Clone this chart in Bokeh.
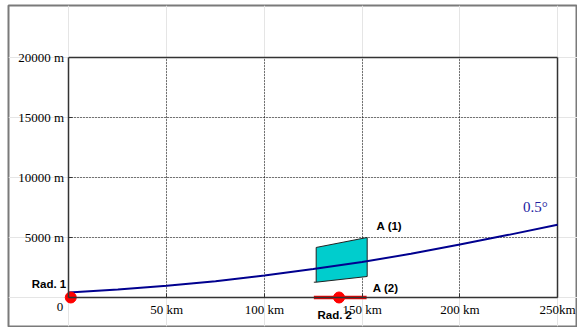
from bokeh.plotting import figure
from bokeh.models import LinearAxis, FixedTicker, Label, Range1d, Grid
from bokeh.embed import file_html
from bokeh.resources import INLINE

# ---- data (km / m) ----
beam_x = [0, 25, 50, 75, 100, 125, 150, 175, 200, 225, 250]
beam_h = [420, 660, 970, 1360, 1830, 2370, 2950, 3640, 4420, 5220, 6060]

area1_x = [126.5, 152.6, 152.6, 126.5]
area1_h = [4170, 5000, 1750, 1275]
area1_base_x = [125.3, 126.5]
area1_base_h = [1275, 1275]

area2_x = [125.3, 152.3]
area2_h = [0, 0]

radar_x = [0.9, 138.2]
radar_h = [0, 0]

x_ticks = [50, 100, 150, 200, 250]
x_tick_labels = ["50 km", "100 km", "150 km", "200 km", "250km"]
y_ticks = [5000, 10000, 15000, 20000]
y_tick_labels = ["5000 m", "10000 m", "15000 m", "20000 m"]
grid_x = [50, 100, 150, 200]
grid_y = [5000, 10000, 15000]

SERIF = "Liberation Serif"
SANS = "Liberation Sans"

x_max = x_ticks[-1]
y_max = y_ticks[-1]

p = figure(width=577, height=327, x_range=Range1d(-30.96, 260.23), y_range=Range1d(-2417, 24333),
           output_backend="svg", toolbar_location=None,
           x_axis_location=None, y_axis_location=None,
           min_border_left=8, min_border_right=0, min_border_top=5, min_border_bottom=1)
p.outline_line_color = "#7a7a7a"
p.outline_line_width = 2
p.background_fill_color = "white"
p.border_fill_color = "white"

def style_axis(ax):
    ax.axis_line_color = "#333333"
    ax.axis_line_width = 1.5
    ax.major_tick_in = 4
    ax.major_tick_out = 0
    ax.minor_tick_line_color = None
    ax.major_tick_line_color = "#333333"
    ax.major_label_text_font = SERIF
    ax.major_label_text_font_size = "13px"
    ax.major_label_text_color = "black"

xax = LinearAxis(fixed_location=0, bounds=(0, x_max), ticker=FixedTicker(ticks=x_ticks),
                 major_label_overrides={t: l for t, l in zip(x_ticks, x_tick_labels)})
style_axis(xax)
xax.major_label_standoff = 5
p.add_layout(xax, "below")

yax = LinearAxis(fixed_location=0, bounds=(0, y_max), ticker=FixedTicker(ticks=y_ticks),
                 major_label_overrides={t: l for t, l in zip(y_ticks, y_tick_labels)})
style_axis(yax)
yax.major_label_standoff = 5
p.add_layout(yax, "left")

# top and right edges of the axes box
p.segment(x0=[x_max, 0], y0=[0, y_max], x1=[x_max, x_max], y1=[y_max, y_max],
          line_color="#333333", line_width=1.5)

gx = Grid(dimension=0, ticker=FixedTicker(ticks=grid_x), grid_line_color="black",
          grid_line_dash="1 2", grid_line_width=1, cross_bounds=(0, y_max))
gy = Grid(dimension=1, ticker=FixedTicker(ticks=grid_y), grid_line_color="black",
          grid_line_dash="1 2", grid_line_width=1, cross_bounds=(0, x_max))
p.add_layout(gx)
p.add_layout(gy)

p.patch(area1_x, area1_h, fill_color="#00cdcd", line_color="#222222", line_width=1)
p.line(area1_base_x, area1_base_h, line_color="#222222", line_width=1)
p.line(beam_x, beam_h, line_color="#00008f", line_width=2)
p.line(area2_x, area2_h, line_color="#ee0000", line_width=3.5)
p.scatter(radar_x, radar_h, size=11, fill_color="#ff0000", line_color="#ff0000")

def lab(x, y, t, align="left", font=SANS, size="11.5px", bold=True, color="black"):
    p.add_layout(Label(x=x, y=y, text=t, text_align=align, text_baseline="middle",
                       text_font=font, text_font_size=size,
                       text_font_style="bold" if bold else "normal", text_color=color))

lab(-1.4, 1140, "Rad. 1", align="right")
lab(136.0, -1442, "Rad. 2", align="center")
lab(157.4, 5917, "A (1)")
lab(155.5, 775, "A (2)")
lab(232.4, 7525, "0.5°", font=SERIF, size="15px", bold=False, color="#2020a0")
lab(-4.6, -833, "0", align="center", font=SERIF, size="13px", bold=False)

open("out.html", "w").write(file_html(p, INLINE))
